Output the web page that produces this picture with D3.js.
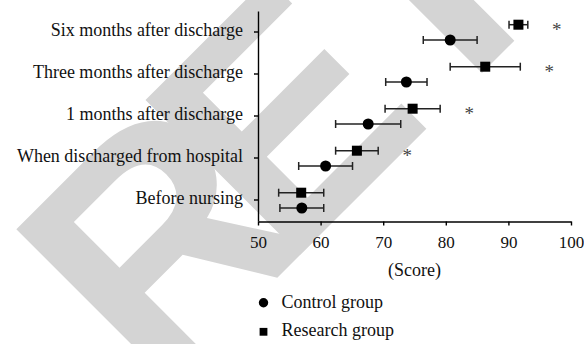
<!DOCTYPE html>
<html>
<head>
<meta charset="utf-8">
<script src="https://cdn.jsdelivr.net/npm/d3@7"></script>
<style>
  html, body { margin: 0; padding: 0; background: #fff; }
  svg { display: block; font-family: "Liberation Serif", "Times New Roman", serif; }
</style>
</head>
<body>
<svg id="chart" width="584" height="344"></svg>
<script>
// Time points, listed bottom to top along the y axis
const categories = [
  "Before nursing",
  "When discharged from hospital",
  "1 months after discharge",
  "Three months after discharge",
  "Six months after discharge"
];
// Mean score and SD per time point
const controlMean  = [57.0, 60.8, 67.6, 73.7, 80.7];
const controlSD    = [3.5, 4.3, 5.2, 3.3, 4.3];
const researchMean = [56.9, 65.8, 74.7, 86.3, 91.6];
const researchSD   = [3.6, 3.4, 4.4, 5.6, 1.5];
// Significant between-group difference (*)
const significant  = [false, true, true, true, true];
const xTicks = [50, 60, 70, 80, 90, 100];
const seriesNames = ["Control group", "Research group"];
const axisTitle = "(Score)";
const stampText = "RETRACTED";

const svg = d3.select("#chart");

// Background stamp, set diagonally behind the plot
svg.append("text")
  .attr("transform", "translate(156,399) rotate(-45)")
  .attr("font-family", "'Liberation Sans', Arial, sans-serif")
  .attr("font-weight", "bold")
  .attr("font-size", 318)
  .attr("dx", "0 -47 -8")
  .attr("fill", "#d4d4d4")
  .text(stampText);

const x = d3.scaleLinear().domain([50, 100]).range([258, 571]);
const y = d3.scaleBand().domain(categories).range([221, 11]);
const yc = c => y(c) + y.bandwidth() / 2;

const series = [
  { name: seriesNames[0], mean: controlMean, sd: controlSD, offset: 8, shape: "circle" },
  { name: seriesNames[1], mean: researchMean, sd: researchSD, offset: -7.3, shape: "square" }
];

// Axes
const xAxis = svg.append("g")
  .attr("transform", "translate(0,221.5)")
  .call(d3.axisBottom(x).tickValues(xTicks).tickSize(4).tickSizeOuter(0).tickPadding(10.7));
const yAxis = svg.append("g")
  .attr("transform", "translate(258,0)")
  .call(d3.axisLeft(y).tickSize(4).tickSizeOuter(0).tickPadding(11));

[xAxis, yAxis].forEach(g => {
  g.select(".domain").attr("stroke", "#000").attr("stroke-width", 1.4);
  g.selectAll(".tick line").attr("stroke", "#000").attr("stroke-width", 1.4);
  g.attr("font-family", null);
  g.selectAll(".tick text").attr("fill", "#111");
});
xAxis.attr("font-size", 17);
yAxis.attr("font-size", 18);
yAxis.selectAll(".tick text").attr("dy", "0.21em");

svg.append("text")
  .attr("x", (x.range()[0] + x.range()[1]) / 2)
  .attr("y", 276)
  .attr("text-anchor", "middle")
  .attr("font-size", 18)
  .attr("fill", "#111")
  .text(axisTitle);

// Error bars and markers
const cap = 4;
series.forEach(s => {
  const g = svg.append("g");
  const rows = categories.map((c, i) => ({ c, m: s.mean[i], sd: s.sd[i], cy: yc(c) + s.offset }));
  const eb = g.selectAll("g.eb").data(rows).join("g").attr("class", "eb")
    .attr("stroke", "#222").attr("stroke-width", 1.5);
  eb.append("line")
    .attr("x1", d => x(d.m - d.sd)).attr("x2", d => x(d.m + d.sd))
    .attr("y1", d => d.cy).attr("y2", d => d.cy);
  eb.append("line")
    .attr("x1", d => x(d.m - d.sd)).attr("x2", d => x(d.m - d.sd))
    .attr("y1", d => d.cy - cap).attr("y2", d => d.cy + cap);
  eb.append("line")
    .attr("x1", d => x(d.m + d.sd)).attr("x2", d => x(d.m + d.sd))
    .attr("y1", d => d.cy - cap).attr("y2", d => d.cy + cap);
  if (s.shape === "circle") {
    g.selectAll("circle").data(rows).join("circle")
      .attr("cx", d => x(d.m)).attr("cy", d => d.cy).attr("r", 5.5).attr("fill", "#000");
  } else {
    g.selectAll("rect").data(rows).join("rect")
      .attr("x", d => x(d.m) - 5).attr("y", d => d.cy - 5)
      .attr("width", 10).attr("height", 10).attr("fill", "#000");
  }
});

// Significance marks
svg.append("g").selectAll("text")
  .data(categories.map((c, i) => ({ c, i })).filter(d => significant[d.i]))
  .join("text")
  .attr("x", d => x(researchMean[d.i] + researchSD[d.i]) + 29)
  .attr("y", d => yc(d.c) - 4.6)
  .attr("dy", "0.47em")
  .attr("text-anchor", "middle")
  .attr("font-size", 19)
  .attr("fill", "#444")
  .text("*");

// Legend
const legend = svg.append("g").attr("transform", "translate(263.5,302.8)");
legend.append("circle").attr("cx", 0).attr("cy", 0).attr("r", 4.7).attr("fill", "#000");
legend.append("rect").attr("x", -3.9).attr("y", 29 - 3.9).attr("width", 7.8).attr("height", 7.8).attr("fill", "#000");
legend.selectAll("text").data(seriesNames).join("text")
  .attr("x", 18).attr("y", (d, i) => 4.7 + i * 29)
  .attr("font-size", 18).attr("fill", "#111")
  .text(d => d);
</script>
</body>
</html>
